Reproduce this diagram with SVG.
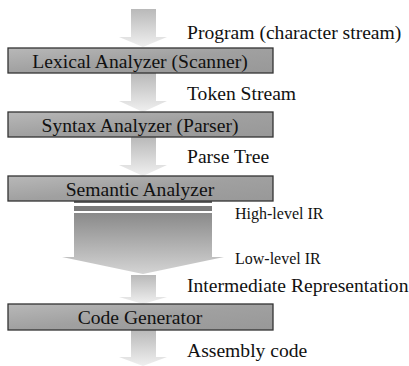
<svg xmlns="http://www.w3.org/2000/svg" width="409" height="366" viewBox="0 0 409 366">
<defs>
<linearGradient id="arr" x1="0" y1="0" x2="0" y2="1">
<stop offset="0" stop-color="#b9b9b9"/>
<stop offset="1" stop-color="#f0f0f0"/>
</linearGradient>
<linearGradient id="big" x1="0" y1="0" x2="0" y2="1">
<stop offset="0" stop-color="#8a8a8a"/>
<stop offset="1" stop-color="#d4d4d4"/>
</linearGradient>
<linearGradient id="box" x1="0" y1="0" x2="1" y2="1">
<stop offset="0" stop-color="#b8b8b8"/>
<stop offset="0.5" stop-color="#a0a0a0"/>
<stop offset="1" stop-color="#989898"/>
</linearGradient>
</defs>
<style>
.box{fill:url(#box);stroke:#333;stroke-width:1.3}
text{font-family:'Liberation Serif','Times New Roman','DejaVu Serif',serif;fill:#111}
.bt{font-size:19.6px;text-anchor:middle}
.lt{font-size:19.6px}
.st{font-size:16px}
.ar{fill:url(#arr)}
</style>
<g id="connectors">
<path class="ar" d="M131,9 H156 V37 H167 L143,47 L119,37 H131 Z"/>
<path class="ar" d="M131,73 H156 V101 H167 L143,112 L119,101 H131 Z"/>
<path class="ar" d="M131,137 H156 V165 H167 L143,176 L119,165 H131 Z"/>
<rect x="74" y="201" width="138" height="2" fill="#666"/>
<rect x="74" y="206" width="138" height="5" fill="#7a7a7a"/>
<path fill="url(#big)" d="M74,213 H212 V257 H224 L143,274 L62,257 H74 Z"/>
<path class="ar" d="M131,275 H156 V297 H167 L143,304 L119,297 H131 Z"/>
<path class="ar" d="M131,330 H156 V357 H167 L143,366 L119,357 H131 Z"/>
</g>
<g id="lexical">
<rect class="box" x="8" y="48" width="265" height="25"/>
<text class="bt" x="140" y="68">Lexical Analyzer (Scanner)</text>
</g>
<g id="syntax">
<rect class="box" x="8" y="112" width="265" height="25"/>
<text class="bt" x="140" y="132">Syntax Analyzer (Parser)</text>
</g>
<g id="semantic">
<rect class="box" x="8" y="176" width="265" height="25"/>
<text class="bt" x="140" y="196">Semantic Analyzer</text>
</g>
<g id="codegen">
<rect class="box" x="8" y="304" width="265" height="26"/>
<text class="bt" x="140" y="324">Code Generator</text>
</g>
<g id="labels">
<text class="lt" x="187" y="39">Program (character stream)</text>
<text class="lt" x="187" y="100">Token Stream</text>
<text class="lt" x="187" y="163">Parse Tree</text>
<text class="st" x="235" y="219">High-level IR</text>
<text class="st" x="235" y="264">Low-level IR</text>
<text class="lt" x="187" y="292">Intermediate Representation</text>
<text class="lt" x="187" y="357">Assembly code</text>
</g>
</svg>
